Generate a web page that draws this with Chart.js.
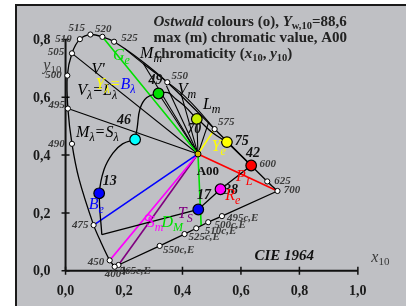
<!DOCTYPE html>
<html>
<head>
<meta charset="utf-8">
<script src="https://cdn.jsdelivr.net/npm/chart.js@4.4.0/dist/chart.umd.min.js"></script>
<style>
  html, body { margin: 0; padding: 0; background: #fff; }
  #wrap { width: 406px; height: 306px; }
</style>
</head>
<body>
<div id="wrap"><canvas id="c"></canvas></div>
<script>
// spectral locus (CIE 1964, x10 / y10); null = no marker, only shape
const locusNm = ['400', '450', null, '475', null, '490', '495', '500', '505', '510', '515', '520', '525', null, '550', '575', '600', '625', '700'];
const locusX = [0.168, 0.151, 0.121, 0.096, 0.046, 0.022, 0.008, 0.006, 0.022, 0.049, 0.085, 0.126, 0.166, 0.255, 0.348, 0.510, 0.635, 0.690, 0.725];
const locusY = [0.014, 0.036, 0.099, 0.158, 0.318, 0.439, 0.561, 0.675, 0.752, 0.801, 0.817, 0.809, 0.792, 0.730, 0.652, 0.490, 0.364, 0.309, 0.276];

// purple line with complementary wavelengths
const purpleNm = ['400', '565c,E', '550c,E', '525c,E', '510c,E', '500c,E', '495c,E', '700'];
const purpleX = [0.168, 0.181, 0.322, 0.407, 0.447, 0.488, 0.535, 0.725];
const purpleY = [0.014, 0.020, 0.086, 0.127, 0.147, 0.168, 0.189, 0.276];

// white point A00
const whiteX = 0.453;
const whiteY = 0.404;

// Ostwald colours of max chromatic value
const ostwaldNo = ['13', '46', '49', '70', '75', '42', '38', '17'];
const ostwaldX = [0.115, 0.238, 0.318, 0.449, 0.552, 0.635, 0.530, 0.454];
const ostwaldY = [0.268, 0.454, 0.613, 0.525, 0.445, 0.364, 0.282, 0.212];
const ostwaldColor = ['#0000ff', '#00ffff', '#00dd00', '#c8f000', '#ffff00', '#ff0000', '#ff00ff', '#0000ff'];

// boundary of max chromatic value
const arcAX = [0.124, 0.116, 0.132, 0.162, 0.195, 0.238];
const arcAY = [0.125, 0.268, 0.351, 0.407, 0.439, 0.454];
const arcBX = [0.238, 0.245, 0.255, 0.278, 0.318, 0.350, 0.377, 0.411, 0.449, 0.460, 0.503, 0.552];
const arcBY = [0.454, 0.494, 0.561, 0.599, 0.613, 0.616, 0.594, 0.566, 0.525, 0.517, 0.477, 0.445];
const edgeX = [0.552, 0.635, 0.530, 0.454, 0.124];
const edgeY = [0.445, 0.364, 0.282, 0.212, 0.125];

// inner line below the green-yellow locus
const innerX = [0.200, 0.267, 0.394, 0.449, 0.510];
const innerY = [0.770, 0.715, 0.616, 0.561, 0.490];

// black rays from A00
const fanX = [0.022, 0.008, 0.318, 0.267, 0.345, 0.394, 0.449, 0.490];
const fanY = [0.752, 0.561, 0.613, 0.715, 0.640, 0.616, 0.525, 0.515];

// end of green ray below A00, S_m marker on the magenta ray
const greenEnd = [0.464, 0.155];
const smPoint = [0.283, 0.183];

const xTicks = [0, 0.2, 0.4, 0.6, 0.8, 1.0];
const yTicks = [0, 0.2, 0.4, 0.6, 0.8];

const SERIF = '"Liberation Serif", "DejaVu Serif", serif';

const pts = (xs, ys) => xs.map((x, i) => ({ x: x, y: ys[i] }));
const L = name => locusNm.indexOf(name);
const P = name => purpleNm.indexOf(name);
const W = { x: whiteX, y: whiteY };

function line(data, color, width, order, tension) {
    return {
        data: data, showLine: true, borderColor: color, borderWidth: width,
        pointRadius: 0, tension: tension || 0, order: order, clip: false
    };
}

const datasets = [];
// markers on top
datasets.push({
    data: pts(ostwaldX, ostwaldY), showLine: false, order: 0, clip: false,
    pointRadius: 5.3, pointBorderWidth: 1.2, pointBorderColor: '#000',
    pointBackgroundColor: ostwaldColor
});
datasets.push({
    data: [W], showLine: false, order: 0, pointRadius: 3,
    pointBackgroundColor: '#d8c000', pointBorderColor: '#000', pointBorderWidth: 1
});
datasets.push({
    data: [{ x: smPoint[0], y: smPoint[1] }], showLine: false, order: 0, pointRadius: 3,
    pointBackgroundColor: 'rgba(0,0,0,0)', pointBorderColor: '#ff00ff', pointBorderWidth: 1.2
});
datasets.push({
    data: pts(locusX, locusY), showLine: true, borderColor: '#000', borderWidth: 1.3,
    tension: 0.3, order: 1, clip: false,
    pointRadius: c => (locusNm[c.dataIndex] && locusNm[c.dataIndex] !== '600') ? 2.6 : 0,
    pointBackgroundColor: '#fff', pointBorderColor: '#000', pointBorderWidth: 1
});
datasets.push({
    data: pts(purpleX, purpleY), showLine: true, borderColor: '#000', borderWidth: 1.3,
    order: 1, clip: false,
    pointRadius: c => (c.dataIndex > 0 && c.dataIndex < purpleNm.length - 1) ? 2.6 : 0,
    pointBackgroundColor: '#fff', pointBorderColor: '#000', pointBorderWidth: 1
});
datasets.push(line(pts(arcAX, arcAY), '#000', 1.3, 2, 0.4));
datasets.push(line(pts(arcBX, arcBY), '#000', 1.3, 2, 0.4));
datasets.push(line(pts(edgeX, edgeY), '#000', 1.3, 2, 0));
datasets.push(line(pts(innerX, innerY), '#000', 1.1, 3, 0.3));
fanX.forEach((x, i) => datasets.push(line([W, { x: x, y: fanY[i] }], '#000', 1.1, 3)));
// coloured rays through A00
datasets.push(line([{ x: locusX[L('520')], y: locusY[L('520')] }, W, { x: greenEnd[0], y: greenEnd[1] }], '#00e000', 1.6, 2));
datasets.push(line([W, { x: locusX[L('575')], y: locusY[L('575')] }], '#ffff00', 1.6, 2));
datasets.push(line([W, { x: locusX[L('475')], y: locusY[L('475')] }], '#0000ff', 1.6, 2));
datasets.push(line([W, { x: locusX[L('450')], y: locusY[L('450')] }], '#ff00ff', 1.6, 2));
datasets.push(line([W, { x: purpleX[P('565c,E')], y: purpleY[P('565c,E')] }], '#800080', 1.6, 2));
datasets.push(line([W, { x: locusX[L('700')], y: locusY[L('700')] }], '#ff0000', 1.6, 2));

// text placed in chart units: [x, y, parts]
const it = (t, c) => ({ t: t, f: 'italic 16px ' + SERIF, c: c });
const sub = (t, c) => ({ t: t, f: 'italic 12px ' + SERIF, c: c, dy: 4 });
const richLabels = [
    [0.162, 0.748, [it('G', '#00e000'), sub('e', '#00e000')]],
    [0.255, 0.755, [it('M', '#000'), sub('m', '#000')]],
    [0.089, 0.699, [it("V'", '#000')]],
    [0.040, 0.626, [it('V', '#000'), sub('λ', '#000'), it('=', '#000'), it('L', '#000'), sub('λ', '#000')]],
    [0.103, 0.649, [it('Y', '#ffff00'), sub('λ', '#ffff00'), it('=', '#ffff00'), it('B', '#0000ff'), sub('λ', '#0000ff')]],
    [0.036, 0.480, [it('M', '#000'), sub('λ', '#000'), it('=', '#000'), it('S', '#000'), sub('λ', '#000')]],
    [0.384, 0.629, [it('V', '#000'), sub('m', '#000')]],
    [0.470, 0.579, [it('L', '#000'), sub('m', '#000')]],
    [0.500, 0.434, [it('Y', '#ffff00'), sub('e', '#ffff00')]],
    [0.583, 0.328, [it('P', '#ff0000'), sub('L', '#ff0000')]],
    [0.546, 0.265, [it('R', '#ff0000'), sub('e', '#ff0000')]],
    [0.079, 0.232, [it('B', '#0000ff'), sub('e', '#0000ff')]],
    [0.278, 0.169, [it('S', '#ff00ff'), sub('m', '#ff00ff')]],
    [0.328, 0.172, [it('D', '#00e000'), sub('M', '#00e000')]],
    [0.384, 0.202, [it('T', '#800080'), sub('S', '#800080')]]
];
const nmLabelPos = {
    '400': [0.162, -0.010], '450': [0.104, 0.031], '475': [0.050, 0.159], '490': [-0.031, 0.437],
    '495': [-0.030, 0.573], '500': [-0.041, 0.675], '505': [-0.033, 0.755], '510': [-0.007, 0.801],
    '515': [0.038, 0.838], '520': [0.129, 0.836], '525': [0.219, 0.805], '550': [0.391, 0.672],
    '575': [0.550, 0.513], '600': [0.692, 0.368], '625': [0.742, 0.311], '700': [0.775, 0.278],
    '565c,E': [0.238, -0.003], '550c,E': [0.387, 0.073], '525c,E': [0.474, 0.116],
    '510c,E': [0.530, 0.136], '500c,E': [0.563, 0.159], '495c,E': [0.606, 0.182]
};
const noLabelPos = [[0.151, 0.308], [0.200, 0.520], [0.308, 0.659], [0.440, 0.490],
                    [0.603, 0.447], [0.641, 0.407], [0.566, 0.278], [0.474, 0.262]];

function rich(ctx, x, y, parts) {
    let cx = x;
    parts.forEach(p => {
        ctx.font = p.f;
        ctx.fillStyle = p.c;
        ctx.fillText(p.t, cx, y + (p.dy || 0));
        cx += ctx.measureText(p.t).width;
    });
}

const decor = {
    id: 'decor',
    beforeDraw(chart) {
        const ctx = chart.ctx;
        ctx.save();
        ctx.fillStyle = '#fff';
        ctx.fillRect(0, 0, chart.width, chart.height);
        ctx.fillStyle = '#bfc0c4';
        ctx.fillRect(16, 5, chart.width - 16, chart.height - 5);
        ctx.fillStyle = '#1a1a1a';
        ctx.fillRect(15, 4, chart.width - 15, 2);
        ctx.fillRect(15, 4, 2, chart.height - 4);
        ctx.restore();
    },
    beforeDatasetsDraw(chart) {
        const ctx = chart.ctx, xs = chart.scales.x, ys = chart.scales.y;
        const x0 = xs.getPixelForValue(0), y0 = ys.getPixelForValue(0);
        ctx.save();
        ctx.strokeStyle = '#111';
        ctx.lineWidth = 2;
        ctx.beginPath();
        ctx.moveTo(x0, y0);
        ctx.lineTo(xs.getPixelForValue(1.0), y0);
        ctx.moveTo(x0, y0);
        ctx.lineTo(x0, ys.getPixelForValue(0.8));
        ctx.stroke();
        ctx.lineWidth = 1.5;
        ctx.beginPath();
        xTicks.forEach(v => {
            const px = xs.getPixelForValue(v);
            ctx.moveTo(px, y0 - 4); ctx.lineTo(px, y0 + 4);
        });
        yTicks.forEach(v => {
            const py = ys.getPixelForValue(v);
            ctx.moveTo(x0 - 4, py); ctx.lineTo(x0 + 4, py);
        });
        ctx.stroke();
        ctx.restore();
    },
    afterDatasetsDraw(chart) {
        const ctx = chart.ctx, xs = chart.scales.x, ys = chart.scales.y;
        const X = v => xs.getPixelForValue(v), Y = v => ys.getPixelForValue(v);
        ctx.save();
        ctx.textBaseline = 'middle';
        ctx.fillStyle = '#1a1a1a';
        ctx.font = 'bold 14px ' + SERIF;
        ctx.textAlign = 'center';
        xTicks.forEach(v => ctx.fillText(v.toFixed(1).replace('.', ','), X(v), Y(0) + 21));
        ctx.textAlign = 'right';
        yTicks.forEach(v => ctx.fillText(v.toFixed(1).replace('.', ','), X(0) - 15, Y(v) + 1));

        // wavelength labels
        ctx.textAlign = 'center';
        ctx.font = 'italic bold 11px ' + SERIF;
        ctx.fillStyle = '#3a3a3a';
        Object.keys(nmLabelPos).forEach(k => {
            const p = nmLabelPos[k];
            ctx.fillText(k, X(p[0]), Y(p[1]));
        });

        // Ostwald numbers
        ctx.font = 'italic bold 14px ' + SERIF;
        ctx.fillStyle = '#111';
        ostwaldNo.forEach((n, i) => ctx.fillText(n, X(noLabelPos[i][0]), Y(noLabelPos[i][1])));
        ctx.font = 'bold 13px ' + SERIF;
        ctx.fillText('A00', X(0.487), Y(0.344));

        ctx.font = 'italic bold 15px ' + SERIF;
        ctx.fillText('CIE 1964', X(0.748), Y(0.050));

        ctx.textAlign = 'left';
        ctx.textBaseline = 'alphabetic';
        richLabels.forEach(r => rich(ctx, X(r[0]), Y(r[1]) + 5.5, r[2]));

        // axis names
        const g = '#3a3a3a';
        rich(ctx, X(1.046), Y(0.043) + 4, [
            { t: 'x', f: 'italic 16px ' + SERIF, c: g },
            { t: '10', f: '11px ' + SERIF, c: g, dy: 3 }]);
        rich(ctx, X(-0.076), Y(0.709) + 4, [
            { t: 'y', f: 'italic 16px ' + SERIF, c: g },
            { t: '10', f: '11px ' + SERIF, c: g, dy: 3 }]);

        // title block
        const tc = '#222', b = 'bold 15px ' + SERIF, bi = 'italic bold 15px ' + SERIF, bs = 'bold 10.5px ' + SERIF;
        const tx = X(0.301);
        rich(ctx, tx, Y(0.848), [
            { t: 'Ostwald', f: bi, c: tc }, { t: ' colours (o), ', f: b, c: tc },
            { t: 'Y', f: bi, c: tc }, { t: 'w,10', f: bs, c: tc, dy: 3 }, { t: '=88,6', f: b, c: tc }]);
        rich(ctx, tx, Y(0.791), [{ t: 'max (m) chromatic value, A00', f: b, c: tc }]);
        rich(ctx, tx + 1, Y(0.735), [
            { t: 'chromaticity (', f: b, c: tc }, { t: 'x', f: bi, c: tc }, { t: '10', f: bs, c: tc, dy: 3 },
            { t: ', ', f: b, c: tc }, { t: 'y', f: bi, c: tc }, { t: '10', f: bs, c: tc, dy: 3 },
            { t: ')', f: b, c: tc }]);
        ctx.restore();
    }
};

new Chart(document.getElementById('c'), {
    type: 'scatter',
    data: { datasets: datasets },
    options: {
        responsive: true,
        maintainAspectRatio: false,
        animation: false,
        layout: { padding: 0 },
        plugins: { legend: { display: false }, tooltip: { enabled: false } },
        scales: {
            x: { type: 'linear', min: -0.202, max: 1.1424, display: false },
            y: { type: 'linear', min: -0.0993, max: 0.9139, display: false }
        }
    },
    plugins: [decor]
});
</script>
</body>
</html>
